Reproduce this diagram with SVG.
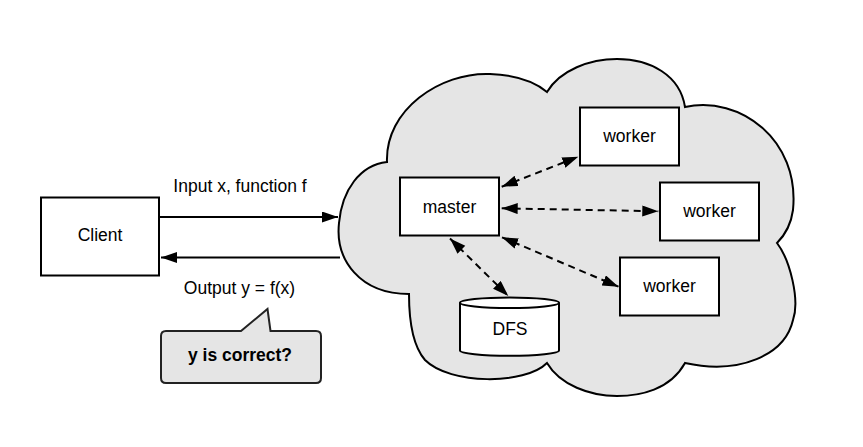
<svg xmlns="http://www.w3.org/2000/svg" width="863" height="447" viewBox="0 0 863 447">
<style>
text{font-family:"Liberation Sans",Arial,sans-serif;font-size:17.5px;fill:#000;text-anchor:middle}
.box{fill:#fff;stroke:#000;stroke-width:2}
.ln{fill:none;stroke:#000;stroke-width:2}
.dash{fill:none;stroke:#000;stroke-width:2;stroke-dasharray:7 5}
</style>
<defs>
<marker id="ah" markerUnits="userSpaceOnUse" markerWidth="17" markerHeight="12" refX="16" refY="5.5" orient="auto-start-reverse" viewBox="0 0 17 12">
<path d="M0,0 L16,5.5 L0,11 Z" fill="#000"/>
</marker>
</defs>
<rect width="863" height="447" fill="#fff"/>
<g id="cloud">
<path d="M387,162 C385,110 440,72 490,74 C515,75 535,82 547,92 C560,70 590,59 617,59 C650,59 680,75 685,107 C740,95 800,140 793,210 C791,225 785,235 777,243 C790,260 800,300 793,320 C785,355 740,375 685,363 C670,390 640,396 617,396 C590,396 560,385 547,363 C525,385 450,385 425,360 C412,345 409,320 409,294 C360,294 335,260 339,223 C342,190 360,165 387,162 Z" fill="#e5e5e5" stroke="#000" stroke-width="2"/>
</g>
<g id="client">
<rect class="box" x="41" y="197.5" width="118" height="78"/>
<text x="100" y="241">Client</text>
</g>
<g id="master">
<rect class="box" x="400" y="177.5" width="99" height="58"/>
<text x="449.5" y="212.5">master</text>
</g>
<g id="worker1">
<rect class="box" x="580" y="107.5" width="99" height="58"/>
<text x="629.5" y="142">worker</text>
</g>
<g id="worker2">
<rect class="box" x="660" y="182.5" width="99" height="58"/>
<text x="709.5" y="217">worker</text>
</g>
<g id="worker3">
<rect class="box" x="620" y="257.5" width="99" height="58"/>
<text x="669.5" y="292">worker</text>
</g>
<g id="dfs">
<path d="M460,302.7 L460,350.4 A49.5,5.3 0 0 0 559,350.4 L559,302.7 A49.5,5.3 0 0 0 460,302.7 Z" fill="#fff" stroke="#000" stroke-width="2"/>
<path d="M460,302.7 A49.5,5.3 0 0 0 559,302.7" fill="none" stroke="#000" stroke-width="2"/>
<text x="510" y="335">DFS</text>
</g>
<g id="callout">
<path d="M166,331 L241,331 L267.5,309 L270.5,331 L316,331 Q321,331 321,336 L321,378 Q321,383 316,383 L166,383 Q161,383 161,378 L161,336 Q161,331 166,331 Z" fill="#e5e5e5" stroke="#222" stroke-width="2"/>
<text x="240" y="361" font-weight="bold">y is correct?</text>
</g>
<g id="connectors">
<line class="ln" x1="160" y1="217" x2="338" y2="217" marker-end="url(#ah)"/>
<line class="ln" x1="340" y1="257.5" x2="161" y2="257.5" marker-end="url(#ah)"/>
<line class="dash" x1="501.7" y1="186.7" x2="578.3" y2="156.7" marker-start="url(#ah)" marker-end="url(#ah)"/>
<line class="dash" x1="501.7" y1="208.3" x2="658.3" y2="211.3" marker-start="url(#ah)" marker-end="url(#ah)"/>
<line class="dash" x1="502" y1="237.3" x2="618.5" y2="286.7" marker-start="url(#ah)" marker-end="url(#ah)"/>
<line class="dash" x1="450" y1="238.5" x2="508.3" y2="296" marker-start="url(#ah)" marker-end="url(#ah)"/>
</g>
<g id="labels">
<text x="240" y="192">Input x, function f</text>
<text x="239.5" y="294">Output y = f(x)</text>
</g>
</svg>
